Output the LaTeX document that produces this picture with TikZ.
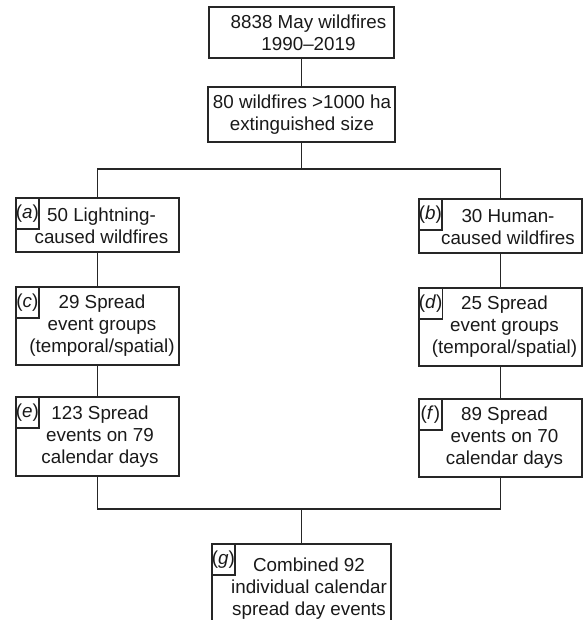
\documentclass[tikz,border=0pt]{standalone}
\usepackage{fontspec}
\setmainfont{Liberation Sans}
\begin{document}
\begin{tikzpicture}[x=1pt,y=-1pt,
  box/.style={draw=black!85, line width=1.6pt, rectangle, inner sep=0pt},
  lbl/.style={draw=black!85, line width=1.4pt, rectangle, inner sep=0pt,
    minimum width=23pt, minimum height=31pt, anchor=north west,
    font=\fontsize{18.8}{22}\selectfont, text=black!90},
  txt/.style={align=center, inner sep=0pt, font=\fontsize{18.8}{22}\selectfont, text=black!90},
  conn/.style={draw=black!85, line width=1.6pt}]
\useasboundingbox (0,0) rectangle (583,620);
% boxes
\node[box, minimum width=185pt, minimum height=51pt] (top) at (301.5,32.5) {};
\node[box, minimum width=187pt, minimum height=55pt] (b2) at (301.5,114.5) {};
\node[box, minimum width=163pt, minimum height=54pt] (a) at (97.5,225) {};
\node[box, minimum width=163pt, minimum height=54pt] (b) at (500.5,226) {};
\node[box, minimum width=163pt, minimum height=78pt] (c) at (97.5,326) {};
\node[box, minimum width=163pt, minimum height=78pt] (d) at (500.5,327) {};
\node[box, minimum width=163pt, minimum height=79pt] (e) at (97.5,436.5) {};
\node[box, minimum width=163pt, minimum height=78pt] (f) at (500.5,438) {};
\node[box, minimum width=179pt, minimum height=88pt] (g) at (301.5,588) {};
% texts
\node[txt] (ttop) at (308.5,32.5) {8838 May wildfires\\1990–2019};
\node[txt] (tb2) at (302,115) {80 wildfires >1000 ha\\extinguished size};
\node[txt] (ta) at (101.5,226) {50 Lightning-\\caused wildfires};
\node[txt] (tb) at (508,227) {30 Human-\\caused wildfires};
\node[txt] (tc) at (102,326) {29 Spread\\event groups\\(temporal/spatial)};
\node[txt] (td) at (504.5,327) {25 Spread\\event groups\\(temporal/spatial)};
\node[txt] (te) at (100,437) {123 Spread\\events on 79\\calendar days};
\node[txt] (tf) at (504.5,438) {89 Spread\\events on 70\\calendar days};
\node[txt] (tg) at (309,589) {Combined 92\\individual calendar\\spread day events};
% labels
\node[lbl] (la) at (a.north west) {(\textit{a})};
\node[lbl] (lb) at (b.north west) {(\textit{b})};
\node[lbl] (lc) at (c.north west) {(\textit{c})};
\node[lbl] (ld) at (d.north west) {(\textit{d})};
\node[lbl] (le) at (e.north west) {(\textit{e})};
\node[lbl] (lf) at (f.north west) {(\textit{f})};
\node[lbl] (lg) at (g.north west) {(\textit{g})};
% connectors
\path (b2.south) ++(0,26) coordinate (j1);
\path (g.north) ++(0,-34) coordinate (j2);
\draw[conn] (top.south) -- (b2.north);
\draw[conn] (b2.south) -- (j1);
\draw[conn] (a.north) |- (j1);
\draw[conn] (b.north) |- (j1);
\draw[conn] (a.south) -- (c.north);
\draw[conn] (c.south) -- (e.north);
\draw[conn] (b.south) -- (d.north);
\draw[conn] (d.south) -- (f.north);
\draw[conn] (e.south) |- (j2);
\draw[conn] (f.south) |- (j2);
\draw[conn] (j2) -- (g.north);
\end{tikzpicture}
\end{document}
